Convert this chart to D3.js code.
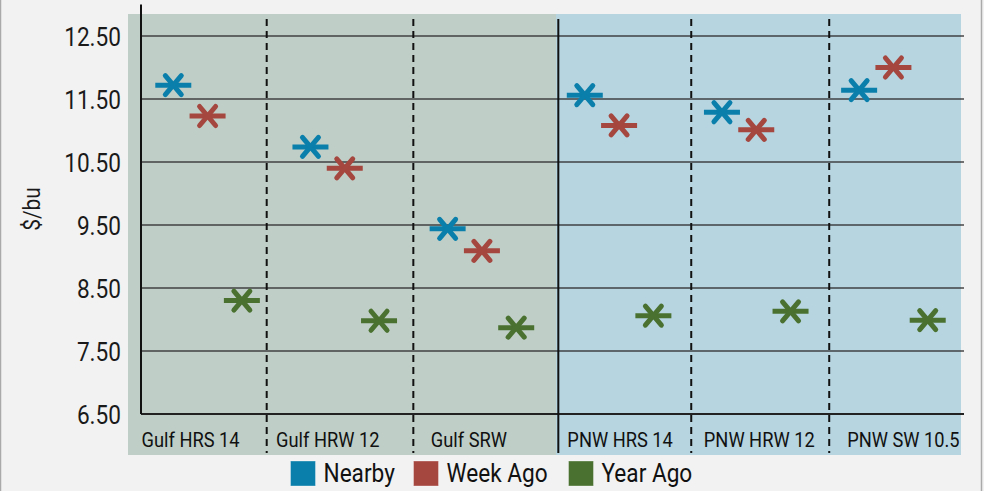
<!DOCTYPE html>
<html><head><meta charset="utf-8">
<script src="https://cdn.jsdelivr.net/npm/d3@7"></script>
<style>
html,body{margin:0;padding:0;background:#f2f2f2;}
svg{display:block;font-family:Roboto,"Noto Sans",sans-serif;}
</style></head>
<body>
<svg id="chart" width="984" height="491"></svg>
<script>
const categories = ["Gulf HRS 14","Gulf HRW 12","Gulf SRW","PNW HRS 14","PNW HRW 12","PNW SW 10.5"];
const seriesNames = ["Nearby","Week Ago","Year Ago"];
const nearby  = [11.72, 10.74, 9.44, 11.56, 11.29, 11.64];
const weekAgo = [11.23, 10.40, 9.09, 11.08, 11.01, 12.00];
const yearAgo = [8.30, 7.98, 7.87, 8.06, 8.13, 7.99];
const yTicks = [6.5, 7.5, 8.5, 9.5, 10.5, 11.5, 12.5];
const yTitle = "$/bu";

const colors = {"Nearby":"#0b7fab","Week Ago":"#a5463f","Year Ago":"#4a7130"};
const seriesData = {"Nearby":nearby,"Week Ago":weekAgo,"Year Ago":yearAgo};

const svg = d3.select("#chart");
const SX = 0.87; // condensed look

const x = d3.scaleBand().domain(categories).range([139, 962]).padding(0);
const xs = d3.scalePoint().domain(seriesNames).range([0, x.bandwidth()]).padding(1);
const y = d3.scaleLinear().domain([6.5, 13]).range([414, 4.5]);
const u = d3.scaleLinear().domain([0, 6]).range([139, 962]); // category units

// outer border lines
svg.append("line").attr("x1",0.5).attr("x2",0.5).attr("y1",0).attr("y2",491).attr("stroke","#aaa").attr("stroke-width",1.5);
svg.append("line").attr("x1",981.5).attr("x2",981.5).attr("y1",0).attr("y2",491).attr("stroke","#aaa").attr("stroke-width",1.5);

// panels
svg.append("rect").attr("x",128).attr("y",14).attr("width",556-128).attr("height",455-14).attr("fill","#bfcfc7");
svg.append("rect").attr("x",556).attr("y",14).attr("width",961-556).attr("height",455-14).attr("fill","#b6d5e0");

// gridlines
svg.append("g").selectAll("line").data(yTicks.slice(1)).join("line")
  .attr("x1",141).attr("x2",964).attr("y1",d=>y(d)).attr("y2",d=>y(d))
  .attr("stroke","#333").attr("stroke-opacity",0.9).attr("stroke-width",1.6);
// x axis baseline
svg.append("line").attr("x1",141).attr("x2",964).attr("y1",y(6.5)).attr("y2",y(6.5))
  .attr("stroke","#222").attr("stroke-width",1.8);

// dividers (category units)
const dividers = [0.931, 2.0, 4.026, 5.032];
svg.append("g").selectAll("line").data(dividers).join("line")
  .attr("x1",d=>u(d)).attr("x2",d=>u(d)).attr("y1",19).attr("y2",453)
  .attr("stroke","#111").attr("stroke-width",2).attr("stroke-dasharray","7,5");
svg.append("line").attr("x1",u(3.057)).attr("x2",u(3.057)).attr("y1",19).attr("y2",453)
  .attr("stroke","#111").attr("stroke-width",2);

// y axis
const yAxis = d3.axisLeft(y).tickValues(yTicks).tickSize(0).tickFormat(d3.format(".2f"));
const gy = svg.append("g").attr("transform","translate(141,0)").call(yAxis);
gy.select(".domain").remove();
gy.selectAll(".tick text").each(function(){
  const t = d3.select(this);
  const yy = +(t.attr("y")||0);
  t.attr("x",null).attr("dy",null).attr("y",null)
   .attr("transform",`translate(-20,9) scale(${SX},1)`)
   .attr("font-size",26).attr("fill","#1a1a1a").attr("font-family","Roboto").attr("text-anchor","end");
});
svg.append("line").attr("x1",141).attr("x2",141).attr("y1",y(13)).attr("y2",y(6.5)).attr("stroke","#111").attr("stroke-width",2);

// y title
svg.append("text").attr("transform",`translate(40,209) rotate(-90) scale(${SX},1)`)
  .attr("text-anchor","middle").attr("font-size",24).attr("fill","#1a1a1a").text(yTitle);

// category labels
const labelShift = [-17, -17, -13, 1, 3, 10];
svg.append("g").selectAll("text").data(categories).join("text")
  .attr("transform",(d,i)=>`translate(${x(d)+x.bandwidth()/2+labelShift[i]},447) scale(${SX},1)`)
  .attr("text-anchor","middle").attr("font-size",21).attr("fill","#111").text(d=>d);

// markers
function marker(g, color){
  g.append("line").attr("x1",-18).attr("x2",18).attr("y1",0).attr("y2",0)
    .attr("stroke",color).attr("stroke-width",5);
  g.append("line").attr("x1",-8).attr("x2",8).attr("y1",-9.5).attr("y2",9.5)
    .attr("stroke",color).attr("stroke-width",5).attr("stroke-linecap","round");
  g.append("line").attr("x1",8).attr("x2",-8).attr("y1",-9.5).attr("y2",9.5)
    .attr("stroke",color).attr("stroke-width",5).attr("stroke-linecap","round");
}
seriesNames.forEach(s=>{
  seriesData[s].forEach((v,i)=>{
    const g = svg.append("g").attr("transform",`translate(${x(categories[i])+xs(s)},${y(v)})`);
    marker(g, colors[s]);
  });
});

// legend
const legendX = [290.5, 413.5, 568.5];
const lg = svg.append("g");
seriesNames.forEach((s,i)=>{
  lg.append("rect").attr("x",legendX[i]).attr("y",461).attr("width",25).attr("height",25)
    .attr("fill",colors[s]).attr("stroke","#ffffff").attr("stroke-opacity",0.35).attr("stroke-width",1);
  lg.append("text").attr("transform",`translate(${legendX[i]+33},482) scale(${SX},1)`)
    .attr("font-size",26).attr("fill","#111").text(s);
});
</script>
</body></html>
